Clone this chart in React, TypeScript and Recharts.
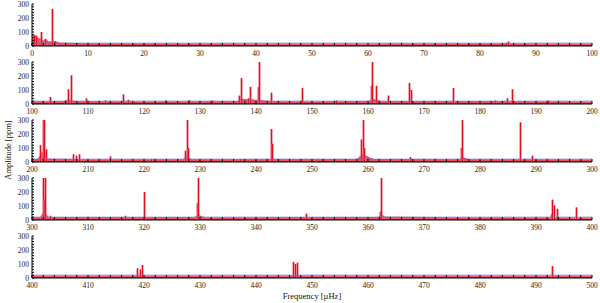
import React from "react";
import { ComposedChart, Area, Bar, XAxis, YAxis, ReferenceLine, ReferenceArea } from "recharts";

// start frequency of each of the 5 stacked panels (µHz)
const panelStarts = [0, 100, 200, 300, 400];
const amplitudeLabels = [0, 100, 200, 300];
const threshold = 20; // blue significance line, ppm

// peaks: [frequency µHz, amplitude ppm] (values above 300 are clipped in the figure)
const peaks0: [number, number][] = [
  [0.3, 80], [0.7, 70], [1.7, 100], [2.4, 50], [3.5, 265], [4.2, 35], [84.7, 22], [85.0, 32],
];
const peaks1: [number, number][] = [
  [103.2, 50], [106.4, 105], [107.0, 205], [109.6, 40], [113.0, 25], [116.3, 68], [117.1, 30],
  [123.8, 25], [128.1, 28], [132.2, 25], [137.0, 60], [137.4, 185], [138.5, 40], [138.9, 122],
  [140.3, 120], [140.5, 330], [142.6, 80], [148.2, 115], [154.3, 25], [160.5, 130], [160.7, 330],
  [161.5, 130], [163.5, 60], [167.4, 150], [167.7, 100], [175.2, 115], [182.7, 25], [184.8, 40],
  [185.7, 105], [192.1, 25],
];
const peaks2: [number, number][] = [
  [201.5, 120], [201.9, 330], [202.2, 330], [202.5, 90], [207.3, 55], [207.9, 45], [208.4, 55],
  [213.9, 40], [221.2, 20], [227.3, 80], [227.6, 330], [227.9, 100], [237.1, 20], [242.6, 235],
  [242.9, 130], [258.8, 160], [259.05, 330], [259.3, 100], [267.5, 35], [276.6, 100], [276.8, 330],
  [287.1, 283], [289.3, 45],
];
const peaks3: [number, number][] = [
  [301.9, 330], [302.1, 150], [302.3, 330], [303.2, 30], [316.6, 30], [320.0, 200], [329.5, 120],
  [329.7, 330], [348.9, 45], [362.2, 60], [362.4, 330], [368.0, 22], [392.7, 40], [392.9, 145],
  [393.2, 105], [393.7, 80], [397.1, 90],
];
const peaks4: [number, number][] = [
  [418.7, 69], [419.3, 60], [419.6, 93], [446.7, 115], [447.0, 100], [447.3, 109], [492.9, 85],
];

// noise envelope: [frequency µHz, amplitude ppm]
const noise0: [number, number][] = [
  [0, 85], [0.4, 60], [0.8, 75], [1.2, 50], [1.6, 55], [2, 40], [2.5, 45], [3, 30], [4, 32],
  [5, 22], [6, 20], [8, 17], [12, 15], [20, 14], [40, 13], [60, 13], [80, 14], [90, 13], [100, 12],
];
const noise1: [number, number][] = [
  [100, 14], [105.5, 16], [106.5, 30], [108, 16], [120, 14], [136.5, 16], [137.5, 35], [141, 25],
  [143, 16], [150, 14], [160, 18], [161, 35], [162.5, 16], [175, 16], [185, 16], [200, 13],
];
const noise2: [number, number][] = [
  [200, 15], [201, 18], [201.8, 70], [202.8, 22], [210, 15], [227, 16], [227.6, 45], [228.5, 16],
  [258, 18], [259, 55], [261, 18], [276.5, 16], [276.8, 35], [278, 16], [300, 14],
];
const noise3: [number, number][] = [
  [300, 14], [301.5, 18], [302.1, 60], [303, 16], [329, 16], [329.7, 35], [331, 14], [361.8, 18],
  [362.4, 40], [363, 22], [370, 18], [375, 14], [400, 13],
];
const noise4: [number, number][] = [[400, 12], [450, 13], [500, 12]];

const allPeaks = [peaks0, peaks1, peaks2, peaks3, peaks4];
const allNoise = [noise0, noise1, noise2, noise3, noise4];

const tickFont = { fontSize: 7.5, fill: "#222", fontFamily: "Liberation Serif" };

type Row = { f: number; a?: number; n?: number };

// thin spike with a light halo, snapped to whole pixels
const Spike = (p: any) => {
  if (p.height == null || p.height <= 0) return <g />;
  const cx = Math.round(p.x + p.width / 2);
  return (
    <g>
      <rect x={cx - 1} y={p.y} width={3} height={p.height} fill="#f06070" fillOpacity={0.55} />
      <rect x={cx} y={p.y} width={1} height={p.height} fill="#e0101c" />
    </g>
  );
};

function Panel({ start, peaks, noise }: { start: number; peaks: [number, number][]; noise: [number, number][] }) {
  const rows: Row[] = [
    ...peaks.map(([f, a]) => ({ f, a })),
    ...noise.map(([f, n]) => ({ f, n })),
  ].sort((p, q) => p.f - q.f);
  const xTicks = Array.from({ length: 51 }, (_, i) => start + i * 2);
  const yTicks = Array.from({ length: 16 }, (_, i) => i * 20);
  return (
    <ComposedChart width={600} height={60} data={rows} margin={{ top: 4, right: 8, bottom: 0, left: 0 }}>
      <XAxis
        xAxisId="b"
        dataKey="f"
        type="number"
        domain={[start, start + 100]}
        allowDataOverflow
        ticks={xTicks}
        interval={0}
        tickSize={-3}
        tickMargin={8}
        height={14}
        stroke="#000"
        tick={tickFont}
        tickFormatter={(v: number) => ((v - start) % 10 === 0 ? String(v) : "")}
      />
      <XAxis
        xAxisId="t"
        orientation="top"
        dataKey="f"
        type="number"
        domain={[start, start + 100]}
        allowDataOverflow
        ticks={xTicks}
        interval={0}
        tickSize={-3}
        height={0}
        stroke="#000"
        tick={false}
      />
      <YAxis
        yAxisId="l"
        type="number"
        domain={[0, 300]}
        allowDataOverflow
        ticks={yTicks}
        interval={0}
        width={32}
        tickSize={-2}
        tickMargin={5}
        stroke="#000"
        tick={tickFont}
        tickFormatter={(v: number) => (amplitudeLabels.includes(v) ? String(v) : "")}
      />
      <YAxis
        yAxisId="r"
        orientation="right"
        type="number"
        domain={[0, 300]}
        allowDataOverflow
        ticks={yTicks}
        interval={0}
        width={0}
        tickSize={-2}
        stroke="#000"
        tick={false}
      />
      <Area
        xAxisId="b"
        yAxisId="l"
        dataKey="n"
        type="linear"
        connectNulls
        stroke="#e83040"
        strokeWidth={0.6}
        fill="#e8283a"
        fillOpacity={0.8}
        isAnimationActive={false}
      />
      <ReferenceArea xAxisId="b" yAxisId="l" y1={0} y2={4} fill="#a80c18" fillOpacity={1} stroke="none" />
      <Bar xAxisId="b" yAxisId="l" dataKey="a" barSize={2} fill="#e0101c" shape={Spike} isAnimationActive={false} />
      <ReferenceLine xAxisId="b" yAxisId="l" y={threshold} stroke="#6a6ae8" strokeWidth={0.9} />
    </ComposedChart>
  );
}

export default function App() {
  return (
    <div style={{ position: "absolute", left: 0, top: 0, width: 600, height: 303, background: "#fff" }}>
      {panelStarts.map((s, i) => (
        <div key={s} style={{ position: "absolute", left: 0, top: i * 58 }}>
          <Panel start={s} peaks={allPeaks[i]} noise={allNoise[i]} />
        </div>
      ))}
      <svg width={600} height={303} style={{ position: "absolute", left: 0, top: 0, pointerEvents: "none" }}>
        <text
          x={0}
          y={0}
          transform="translate(9,150) rotate(-90)"
          textAnchor="middle"
          dominantBaseline="middle"
          fontFamily="Liberation Serif"
          fontSize={8.5}
          fill="#111"
        >
          Amplitude [ppm]
        </text>
        <text x={312} y={297} textAnchor="middle" dominantBaseline="middle" fontFamily="Liberation Serif" fontSize={8.5} fill="#111">
          Frequency [µHz]
        </text>
      </svg>
    </div>
  );
}
